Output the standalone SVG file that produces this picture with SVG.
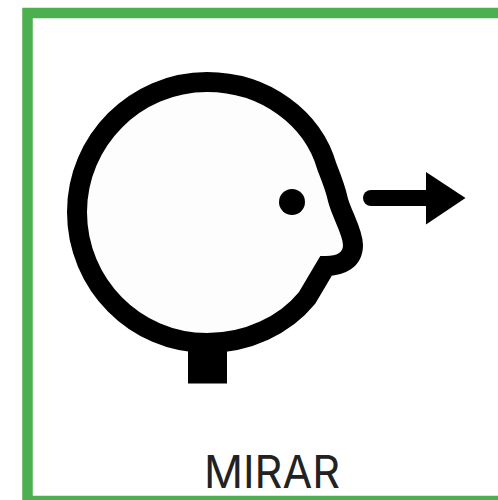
<svg xmlns="http://www.w3.org/2000/svg" width="498" height="500" viewBox="0 0 498 500">
<rect width="498" height="500" fill="#fff"/>
<rect x="27.5" y="13" width="480" height="488" fill="#fff" stroke="#4caf50" stroke-width="10.5"/>
<rect x="188" y="340" width="39" height="43.500" fill="#000"/>
<path d="M207 82C135 82 77 141 77 212C77 284 135 343 207 343C248 343 285 325 307 298L326 266C341 266 353 260 353 245C353 232 342 215 338 200C336 190 333 182 327 167C313 118 265 82 207 82Z" fill="#fdfdfd" stroke="#000" stroke-width="20" stroke-linejoin="miter"/>
<circle cx="292" cy="202" r="13" fill="#000"/>
<path d="M371 198H428" stroke="#000" stroke-width="16" stroke-linecap="round"/>
<polygon points="426,172 465.500,198 426,224.500" fill="#000"/>
<text x="272" y="488" font-family="Inter, 'Liberation Sans', sans-serif" font-size="45" text-anchor="middle" fill="#222" textLength="136" lengthAdjust="spacingAndGlyphs">MIRAR</text>
</svg>
